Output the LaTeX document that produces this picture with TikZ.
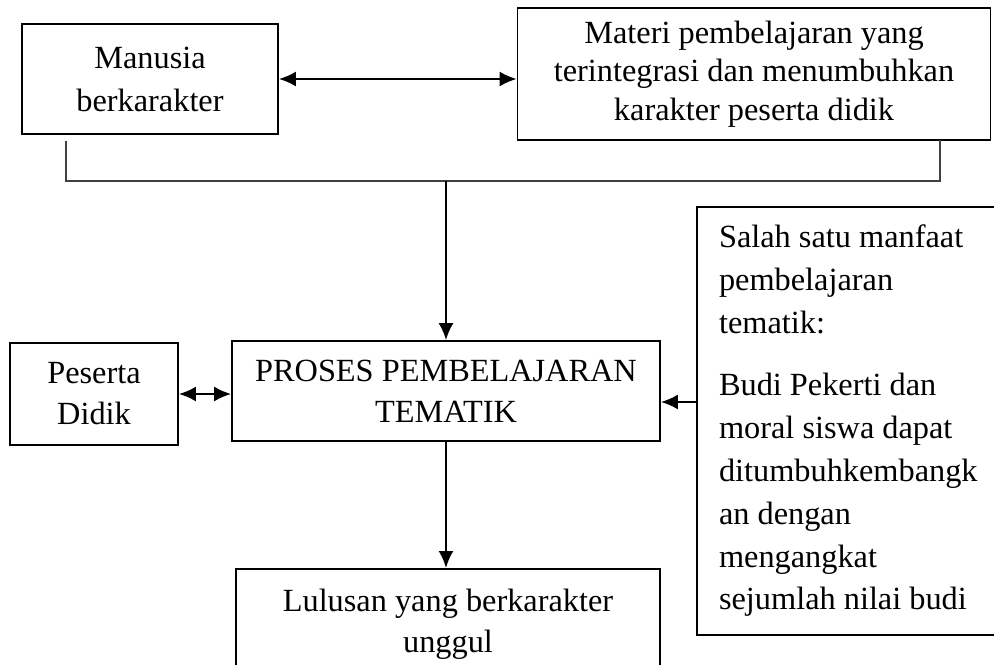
\documentclass[tikz,border=0pt]{standalone}
\usepackage{fontspec}
\setmainfont{Liberation Serif}
\usetikzlibrary{arrows.meta}

\begin{document}
\begin{tikzpicture}[x=0.02cm, y=-0.02cm,
		kotak/.style={shape=rectangle, draw, line width=1pt, align=center, inner sep=0pt, font=\fontsize{18.4}{23.3}\selectfont},
		panah/.style={line width=1.3pt, -{Latex[length=0.34cm, width=0.3cm]}},
		panahdua/.style={line width=1.3pt, {Latex[length=0.34cm, width=0.3cm]}-{Latex[length=0.34cm, width=0.3cm]}},
		garis/.style={line width=0.6pt, draw=black!75}]
		\useasboundingbox (0,0) rectangle (994,665);
		\node[kotak, minimum width=5.12cm, minimum height=2.2cm, font=\fontsize{18.4}{24.5}\selectfont] (Man) at (150,79) {Manusia\\berkarakter};
		\node[kotak, minimum width=9.46cm, minimum height=2.64cm, font=\fontsize{18.4}{22}\selectfont] (Mat) at (754,74) {Materi pembelajaran yang\\terintegrasi dan menumbuhkan\\karakter peserta didik};
		\node[kotak, minimum width=3.36cm, minimum height=2.04cm] (Pes) at (94,394) {Peserta\\Didik};
		\node[kotak, minimum width=8.56cm, minimum height=2cm] (Pro) at (446,391) {PROSES PEMBELAJARAN\\TEMATIK};
		\node[kotak, align=flush left, text width=5.16cm, inner xsep=0.44cm, minimum height=8.56cm, font=\fontsize{18.4}{24.4}\selectfont] (Sal) at (848,421) {Salah satu manfaat\\pembelajaran\\tematik:\\[0.38cm]Budi Pekerti dan\\moral siswa dapat\\ditumbuhkembangk\\an dengan\\mengangkat\\sejumlah nilai budi};
		\node[kotak, anchor=north, minimum width=8.48cm, minimum height=2.2cm] (Lul) at (448,568) {Lulusan yang berkarakter\\unggul};
		% Connections
		\coordinate (BkL) at (66,141);
		\coordinate (BkM) at (446,181);
		\coordinate (BkR) at (940,140);
		\draw [garis] (BkL) |- (BkM) -| (BkR);
		\draw [panahdua] (Man.east) -- (Man.east -| Mat.west);
		\draw [panah] (BkM) -- (BkM |- Pro.north);
		\draw [panahdua] (Pes.east) -- (Pes.east -| Pro.west);
		\draw [panah] ([yshift=-0.22cm]Sal.west |- Pro.east) -- ([yshift=-0.22cm]Pro.east);
		\draw [panah] (Pro.south) -- (Pro.south |- Lul.north);
	\end{tikzpicture}
\end{document}
